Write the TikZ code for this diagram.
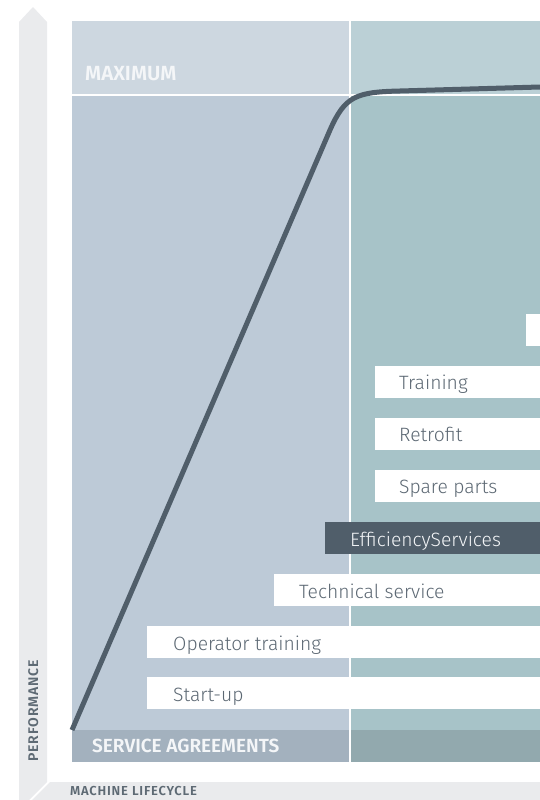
\documentclass[tikz,border=0pt]{standalone}
\usepackage{fontspec}
\setmainfont{Fira Sans Light}[BoldFont={Fira Sans SemiBold}]
\begin{document}
\begin{tikzpicture}[x=1pt,y=1pt,
  boxtext/.style={anchor=base west, inner sep=0pt, text=boxgray, font=\fontsize{19.3}{22}\selectfont},
  headtext/.style={anchor=base west, inner sep=0pt, text=headwhite, font=\bfseries\fontsize{20.5}{24}\selectfont},
  axistext/.style={inner sep=0pt, text=axisgray, font=\bfseries\fontsize{14}{16}\selectfont\addfontfeature{LetterSpace=6}},
  divider/.style={draw=white, line width=1.5pt}]
\definecolor{upL}{HTML}{CDD7E0}
\definecolor{upR}{HTML}{BBD0D6}
\definecolor{loL}{HTML}{BDCAD7}
\definecolor{loR}{HTML}{A7C3C8}
\definecolor{saL}{HTML}{A3B1BE}
\definecolor{saR}{HTML}{92A9AE}
\definecolor{band}{HTML}{EAEBED}
\definecolor{boxgray}{HTML}{5C6873}
\definecolor{curve}{HTML}{505E6A}
\definecolor{headwhite}{HTML}{F4F6F8}
\definecolor{axisgray}{HTML}{5E6A74}
\useasboundingbox (0,0) rectangle (540,-800);
% axis bands
\fill[band] (19,-22) -- (33,-7) -- (47,-22) -- (47,-782) -- (29,-800) -- (19,-800) -- cycle;
\fill[band] (50,-782) -- (540,-782) -- (540,-800) -- (32,-800) -- cycle;
% chart areas
\fill[upL] (72,-21) rectangle (350,-95);
\fill[upR] (350,-21) rectangle (540,-95);
\fill[loL] (72,-95) rectangle (350,-730);
\fill[loR] (350,-95) rectangle (540,-730);
\fill[saL] (72,-730) rectangle (350,-762);
\fill[saR] (350,-730) rectangle (540,-762);
\draw[divider] (72,-95) -- (540,-95);
\draw[divider] (350,-21) -- (350,-762);
% service boxes
\fill[white] (526,-314) rectangle (540,-346);
\fill[white] (375,-366) rectangle (540,-398);
\fill[white] (375,-418) rectangle (540,-450);
\fill[white] (375,-470) rectangle (540,-502);
\fill[curve] (325,-522) rectangle (540,-554);
\fill[white] (274,-574) rectangle (540,-606);
\fill[white] (147,-626) rectangle (540,-658);
\fill[white] (147,-677) rectangle (540,-709);
\node[boxtext] (training) at (399,-389) {Training};
\node[boxtext] (retrofit) at (399,-441) {Retrofit};
\node[boxtext] (spare) at (399,-493) {Spare parts};
\node[boxtext, text=headwhite] (eff) at (350,-546) {EfficiencyServices};
\node[boxtext] (tech) at (299,-598) {Technical service};
\node[boxtext] (oper) at (173,-650) {Operator training};
\node[boxtext] (start) at (173,-701) {Start-up};
% curve
\coordinate (c0) at (72,-730);
\coordinate (c1) at (330,-130);
\coordinate (c2) at (400,-91);
\coordinate (c3) at (540,-87);
\draw[curve, line width=5pt, line join=round] (c0) -- (c1) .. controls (345,-96) and (356,-92) .. (c2) -- (c3);
% headings
\node[headtext] (max) at (85,-81) {MAXIMUM};
\node[headtext, font=\bfseries\fontsize{19}{22}\selectfont] (sa) at (92,-752) {SERVICE AGREEMENTS};
\node[axistext, rotate=90, anchor=base] (perf) at (38,-711) {PERFORMANCE};
\node[axistext, anchor=base west, font=\bfseries\fontsize{13}{15}\selectfont\addfontfeature{LetterSpace=6}] (life) at (70,-795.5) {MACHINE LIFECYCLE};
\end{tikzpicture}
\end{document}
